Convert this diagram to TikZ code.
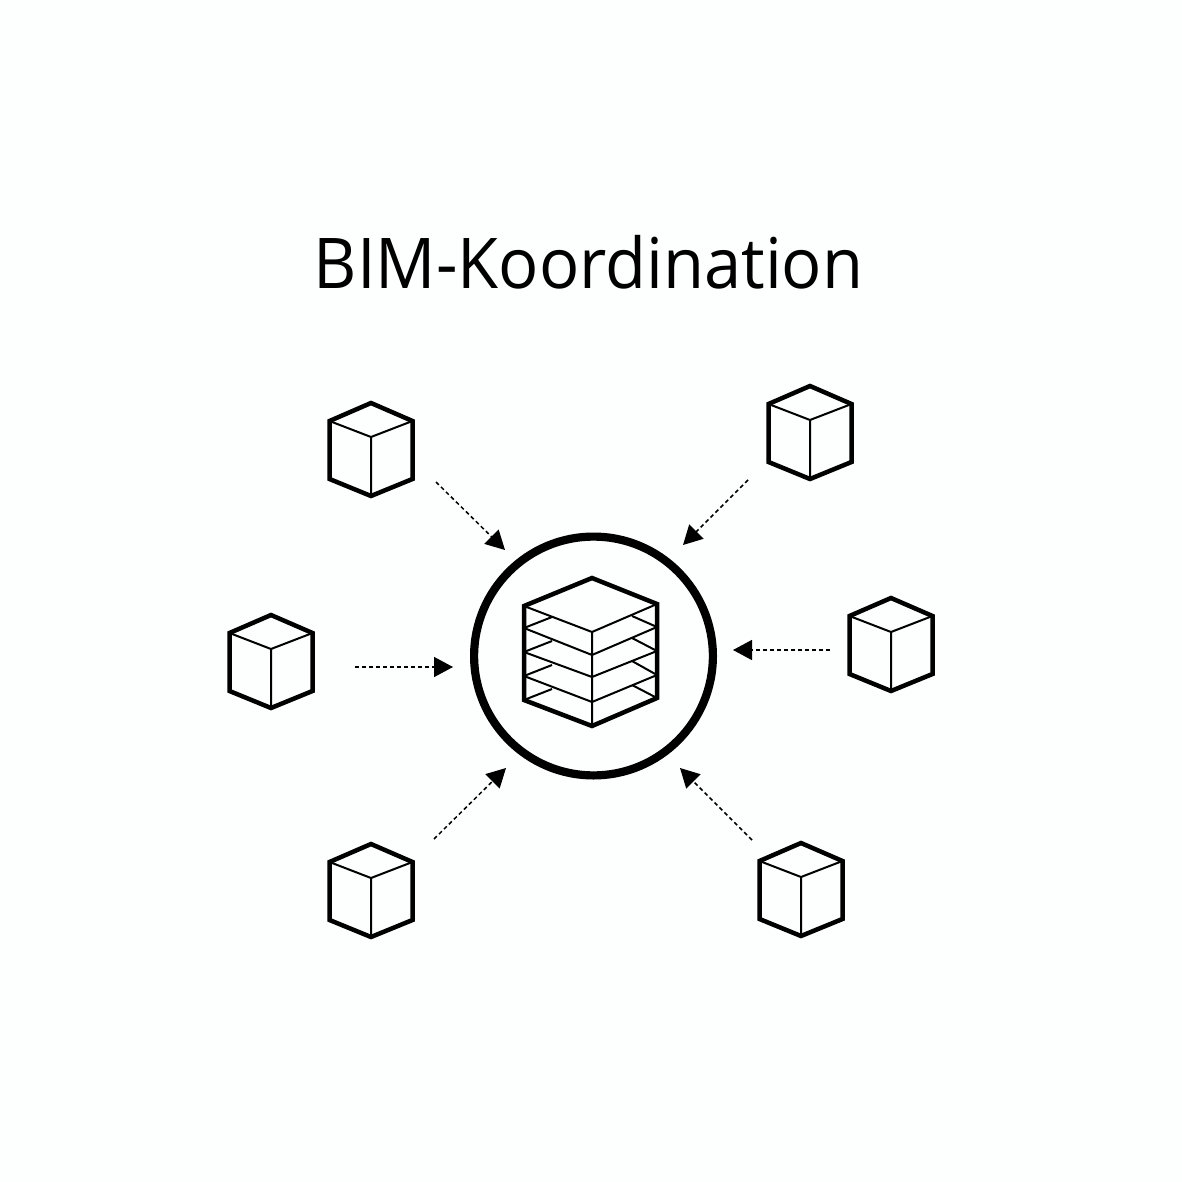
\documentclass[tikz,border=0pt]{standalone}
\usepackage{fontspec}
\setmainfont{Open Sans}
\usetikzlibrary{arrows.meta}
\definecolor{paper}{HTML}{FDFEFE}
\tikzset{
  x=1pt,y=-1pt,
  outer/.style={line width=4.5pt,line join=miter,black},
  inner/.style={line width=2pt,line join=miter,black},
  feed/.style={line width=1.5pt,dash pattern=on 4pt off 3pt,-{Triangle[length=19pt,width=20pt]},black},
  isocube/.pic={
    \draw[inner] (-41.5,19) -- (0,35) -- (41.5,19) (0,35) -- (0,94);
    \draw[outer] (0,1) -- (41.5,19) -- (41.5,77) -- (0,94) -- (-41.5,77) -- (-41.5,19) -- cycle;
  }
}
\begin{document}
\begin{tikzpicture}
\useasboundingbox (0,0) rectangle (1182,1182);
\fill[paper] (0,0) rectangle (1182,1182);
\node[inner sep=0pt,anchor=base,font=\fontsize{70}{70}\selectfont] (title) at (588.5,288) {\scalebox{0.955}[1]{BIM-Koordination}};
% source cubes
\pic (c1) at (371,402) {isocube};
\pic (c2) at (810,385) {isocube};
\pic (c3) at (271,614) {isocube};
\pic (c4) at (891,597) {isocube};
\pic (c5) at (371,843) {isocube};
\pic (c6) at (801,842) {isocube};
% hub
\node[circle,draw=black,line width=8.2pt,minimum size=238.8pt,inner sep=0pt] (hub) at (593.5,656) {};
% layered model
\draw[inner] (524,606) -- (592,632) -- (657,604) (592,632) -- (592,727);
\draw[inner] (524,628) -- (592,655) -- (657,627);
\draw[inner] (524,652) -- (592,677) -- (657,651);
\draw[inner] (524,676) -- (592,702) -- (657,675);
\draw[inner] (524,628) -- (552,617) (524,652) -- (552,641) (524,676) -- (552,665) (524,700) -- (552,689);
\draw[inner] (632,616) -- (657,627) (632,638) -- (657,651) (632,661) -- (657,675) (632,685) -- (657,698);
\draw[outer] (592,578) -- (657,604) -- (657,698) -- (592,726) -- (524,700) -- (524,606) -- cycle;
% connector ends
\coordinate (s1) at (436,482); \coordinate (t1) at (505,550);
\coordinate (s2) at (748,480); \coordinate (t2) at (683,545);
\coordinate (s3) at (355,667); \coordinate (t3) at (453,667);
\coordinate (s4) at (830,650); \coordinate (t4) at (733,650);
\coordinate (s5) at (434,839); \coordinate (t5) at (506,768);
\coordinate (s6) at (752,840); \coordinate (t6) at (680,768);
\foreach \i in {1,...,6} \draw[feed] (s\i) -- (t\i);
\end{tikzpicture}
\end{document}
